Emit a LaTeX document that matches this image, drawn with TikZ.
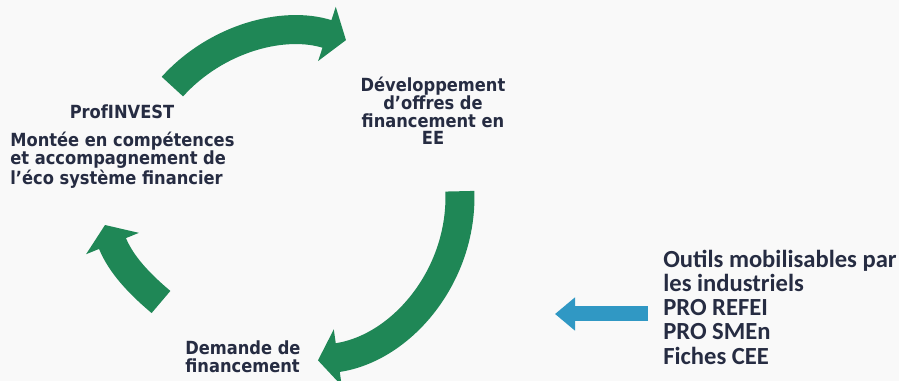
\documentclass[tikz,border=0pt]{standalone}
\usepackage{fontspec}
\usepackage{xcolor}
\setmainfont{DejaVu Sans Condensed}
\newfontfamily\toolsfont{Carlito}
\definecolor{CycleGreen}{RGB}{31,135,86}
\definecolor{ToolBlue}{RGB}{48,152,196}
\definecolor{InkNavy}{RGB}{38,44,66}
\definecolor{PaperGray}{RGB}{249,249,249}
\usetikzlibrary{arrows.meta}

\begin{document}
\begin{tikzpicture}[
    x=0.02cm, y=0.02cm,
    cyclelabel/.style={
        font=\fontsize{10.3}{10.1}\selectfont\bfseries, text=InkNavy,
        inner sep=0pt, align=center
    },
    toolslabel/.style={
        font=\toolsfont\fontsize{14}{13.8}\selectfont\bfseries, text=InkNavy,
        inner sep=0pt, align=left
    },
    cyclearrow/.style={
        draw=CycleGreen, line width=0.58cm,
        -{Triangle[length=0.4cm, width=1.12cm]}
    },
    toolarrow/.style={
        draw=ToolBlue, line width=0.3cm,
        -{Triangle[length=0.4cm, width=0.64cm]}
    }
]

% ====== FOND ======
\fill[PaperGray] (0,0) rectangle (899,381);
\useasboundingbox (0,0) rectangle (899,381);

% ====== ETAPES DU CYCLE ======
\node[cyclelabel] (prof) at (122,269) {ProfINVEST};
\node[cyclelabel, anchor=west, align=left] (montee) at (10,221)
    {Montée en compétences\\et accompagnement de\\l'éco système financier};
\node[cyclelabel] (devel) at (433,270)
    {Développement\\d'offres de\\financement en\\EE};
\node[cyclelabel, anchor=west, align=left] (demande) at (185,24)
    {Demande de\\financement};

% ====== OUTILS ======
\node[toolslabel, anchor=west] (tools) at (663,74)
    {Outils mobilisables par\\les industriels\\PRO REFEI\\PRO SMEn\\Fiches CEE};

% ====== FLECHES DU CYCLE ======
\coordinate (centre) at (295,184);
\path (centre) ++(138:3.3cm) coordinate (topstart);
\path (centre) ++(2:3.3cm) coordinate (rightstart);
\coordinate (leftstart) at (161,79);
\coordinate (lefttip) at (105,156);

% 1. vers le financement en EE
\draw[cyclearrow] (topstart) arc[start angle=138, end angle=72, radius=3.3cm];

% 2. vers la demande
\draw[cyclearrow] (rightstart) arc[start angle=2, end angle=-82, radius=3.3cm];

% 3. retour vers ProfINVEST
\draw[cyclearrow] (leftstart) to[out=140, in=-68] (lefttip);

% ====== FLECHE OUTILS ======
\coordinate (toolstip) at (555,67);
\draw[toolarrow, shorten <=0.3cm] (tools.west |- toolstip) -- (toolstip);

\end{tikzpicture}
\end{document}
